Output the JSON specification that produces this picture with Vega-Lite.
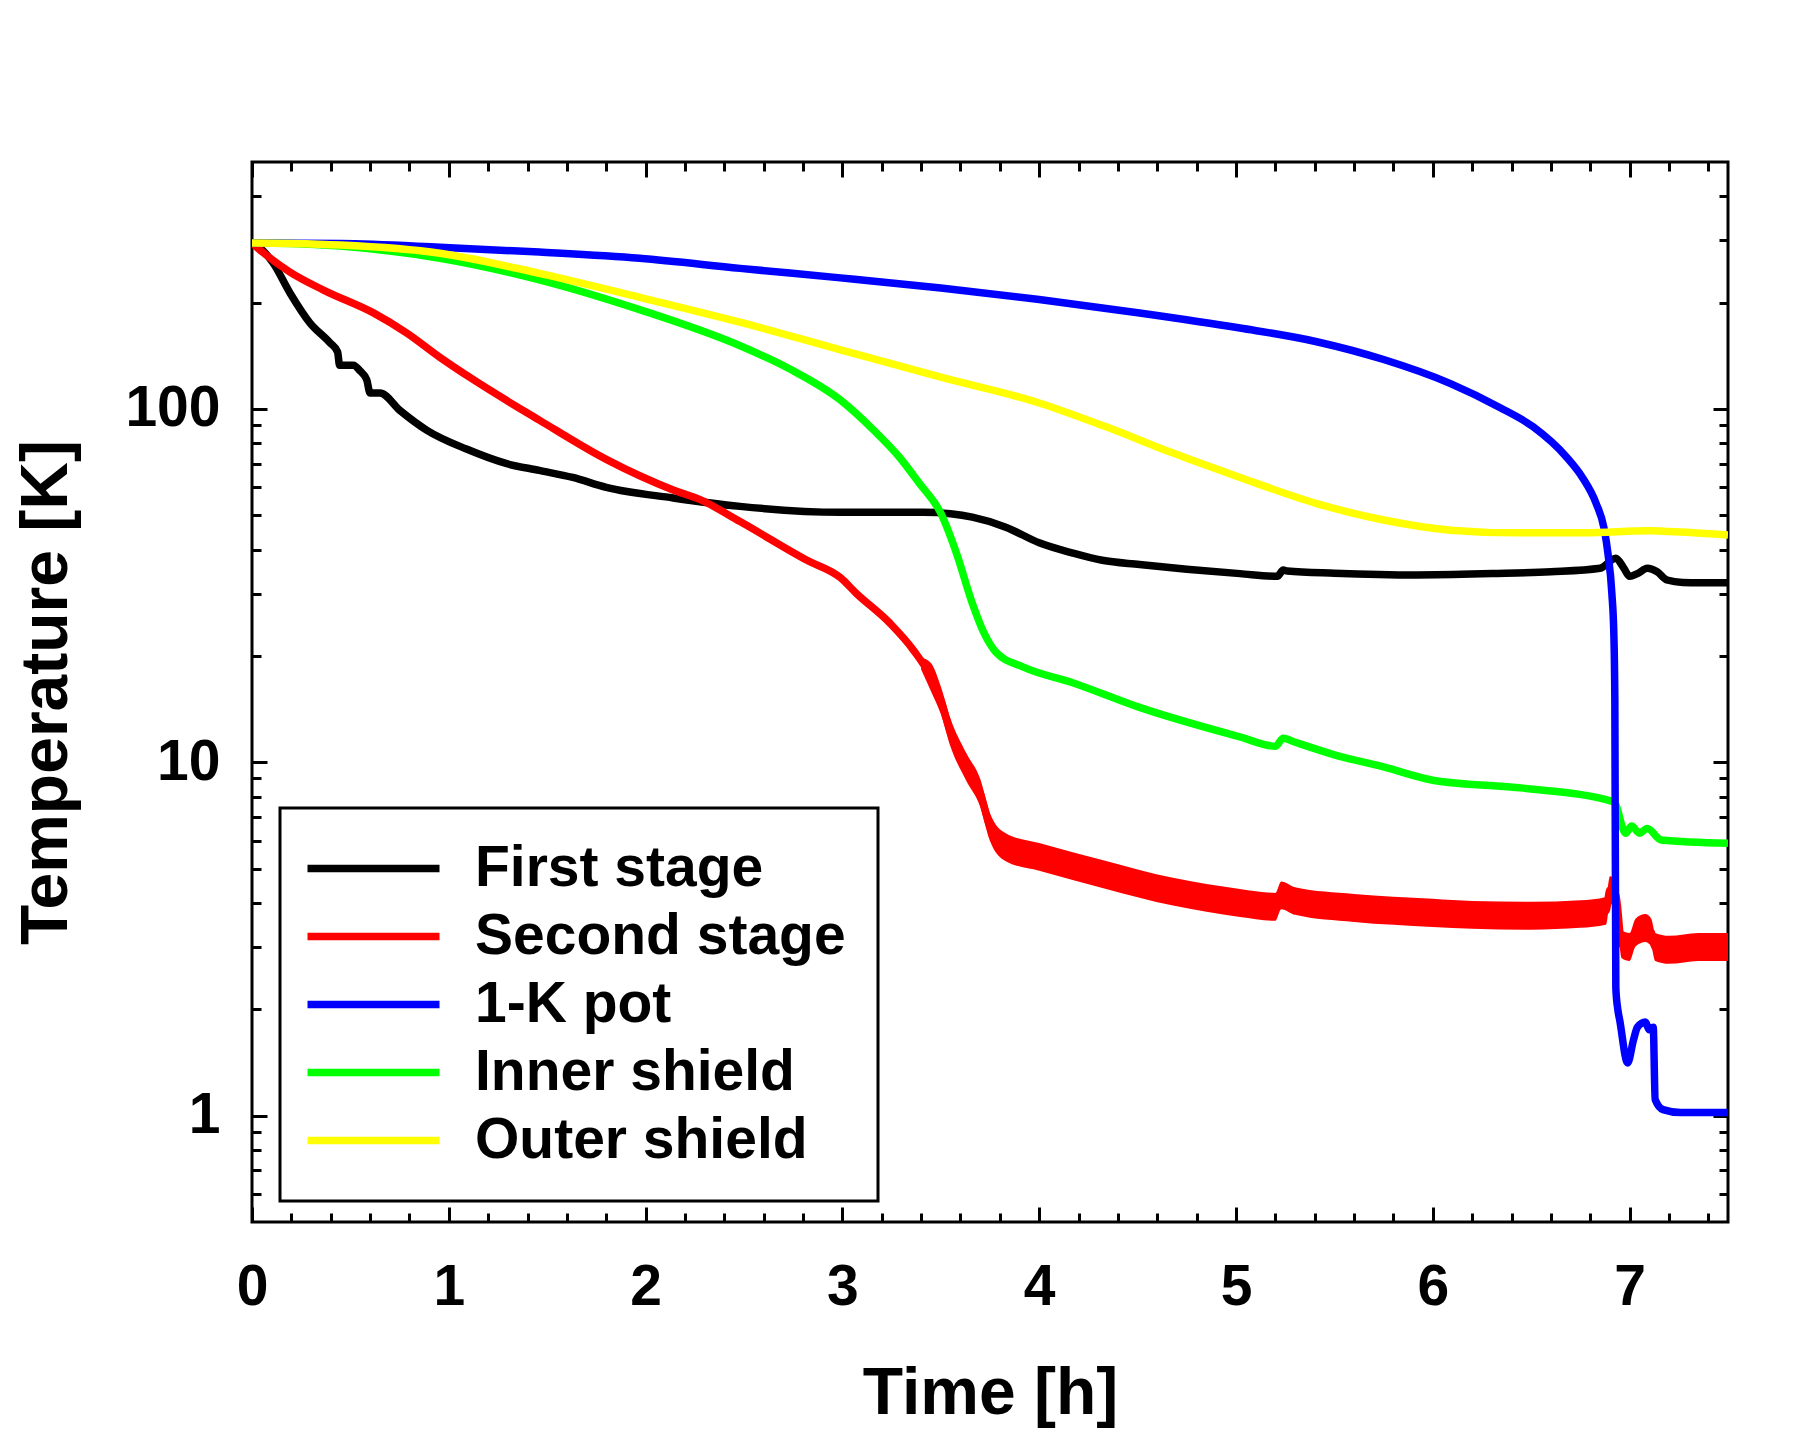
{
  "$schema": "https://vega.github.io/schema/vega-lite/v6.json",
  "width": 1476,
  "height": 1060,
  "autosize": {"type": "none"},
  "padding": {"left": 252, "top": 162, "right": 87, "bottom": 223},
  "background": "white",
  "config": {
    "view": {"stroke": "black", "strokeWidth": 3},
    "axis": {"domain": false, "grid": false, "tickColor": "black", "tickWidth": 3, "labelColor": "black", "titleColor": "black", "labelFont": "Liberation Sans", "titleFont": "Liberation Sans", "labelFontWeight": "bold", "titleFontWeight": "bold"},
    "legend": {"strokeWidth": 3}
  },
  "datasets": {
    "lines": [
      {"s": "First stage", "t": 0, "T": 295}, {"s": "First stage", "t": 0.025, "T": 290}, {"s": "First stage", "t": 0.107, "T": 259},
      {"s": "First stage", "t": 0.193, "T": 213}, {"s": "First stage", "t": 0.295, "T": 175}, {"s": "First stage", "t": 0.396, "T": 154},
      {"s": "First stage", "t": 0.435, "T": 145}, {"s": "First stage", "t": 0.445, "T": 133}, {"s": "First stage", "t": 0.515, "T": 133},
      {"s": "First stage", "t": 0.55, "T": 128}, {"s": "First stage", "t": 0.583, "T": 121}, {"s": "First stage", "t": 0.6, "T": 111},
      {"s": "First stage", "t": 0.65, "T": 111}, {"s": "First stage", "t": 0.752, "T": 99}, {"s": "First stage", "t": 0.889, "T": 87},
      {"s": "First stage", "t": 1.09, "T": 77}, {"s": "First stage", "t": 1.295, "T": 70}, {"s": "First stage", "t": 1.46, "T": 67},
      {"s": "First stage", "t": 1.63, "T": 64}, {"s": "First stage", "t": 1.8, "T": 60}, {"s": "First stage", "t": 2.14, "T": 56},
      {"s": "First stage", "t": 2.48, "T": 53}, {"s": "First stage", "t": 2.99, "T": 51}, {"s": "First stage", "t": 3.41, "T": 51},
      {"s": "First stage", "t": 3.55, "T": 50.5}, {"s": "First stage", "t": 3.66, "T": 49.4}, {"s": "First stage", "t": 3.83, "T": 46.3},
      {"s": "First stage", "t": 4.0, "T": 41.8}, {"s": "First stage", "t": 4.17, "T": 39.1}, {"s": "First stage", "t": 4.32, "T": 37.3},
      {"s": "First stage", "t": 4.51, "T": 36.3}, {"s": "First stage", "t": 4.75, "T": 35.2}, {"s": "First stage", "t": 5.02, "T": 34.2},
      {"s": "First stage", "t": 5.21, "T": 33.6}, {"s": "First stage", "t": 5.24, "T": 35}, {"s": "First stage", "t": 5.26, "T": 34.8},
      {"s": "First stage", "t": 5.5, "T": 34.3}, {"s": "First stage", "t": 5.92, "T": 33.9}, {"s": "First stage", "t": 6.3, "T": 34.2},
      {"s": "First stage", "t": 6.6, "T": 34.6}, {"s": "First stage", "t": 6.85, "T": 35.4}, {"s": "First stage", "t": 6.93, "T": 37.8},
      {"s": "First stage", "t": 6.97, "T": 35.5}, {"s": "First stage", "t": 7.0, "T": 33.6}, {"s": "First stage", "t": 7.04, "T": 34.2},
      {"s": "First stage", "t": 7.09, "T": 35.4}, {"s": "First stage", "t": 7.14, "T": 34.6}, {"s": "First stage", "t": 7.19, "T": 32.8},
      {"s": "First stage", "t": 7.27, "T": 32.3}, {"s": "First stage", "t": 7.5, "T": 32.2},

      {"s": "Second stage", "t": 0, "T": 295}, {"s": "Second stage", "t": 0.04, "T": 282}, {"s": "Second stage", "t": 0.193, "T": 244},
      {"s": "Second stage", "t": 0.363, "T": 217}, {"s": "Second stage", "t": 0.617, "T": 187}, {"s": "Second stage", "t": 0.787, "T": 164},
      {"s": "Second stage", "t": 0.955, "T": 140}, {"s": "Second stage", "t": 1.125, "T": 121}, {"s": "Second stage", "t": 1.46, "T": 93},
      {"s": "Second stage", "t": 1.8, "T": 72}, {"s": "Second stage", "t": 2.14, "T": 59}, {"s": "Second stage", "t": 2.28, "T": 55.3},
      {"s": "Second stage", "t": 2.48, "T": 48}, {"s": "Second stage", "t": 2.82, "T": 37.3}, {"s": "Second stage", "t": 2.99, "T": 33.3},
      {"s": "Second stage", "t": 3.07, "T": 30.1}, {"s": "Second stage", "t": 3.24, "T": 24.8}, {"s": "Second stage", "t": 3.36, "T": 20.8},
      {"s": "Second stage", "t": 3.45, "T": 17.4}, {"s": "Second stage", "t": 3.5, "T": 15}, {"s": "Second stage", "t": 3.55, "T": 12.1},
      {"s": "Second stage", "t": 3.63, "T": 9.7}, {"s": "Second stage", "t": 3.7, "T": 8.2}, {"s": "Second stage", "t": 3.75, "T": 6.56},
      {"s": "Second stage", "t": 3.83, "T": 5.75}, {"s": "Second stage", "t": 4.0, "T": 5.4}, {"s": "Second stage", "t": 4.34, "T": 4.8},
      {"s": "Second stage", "t": 4.68, "T": 4.3}, {"s": "Second stage", "t": 5.02, "T": 4.0}, {"s": "Second stage", "t": 5.2, "T": 3.9},
      {"s": "Second stage", "t": 5.23, "T": 4.2}, {"s": "Second stage", "t": 5.3, "T": 4.05}, {"s": "Second stage", "t": 5.6, "T": 3.87},
      {"s": "Second stage", "t": 6.0, "T": 3.75}, {"s": "Second stage", "t": 6.2, "T": 3.7}, {"s": "Second stage", "t": 6.5, "T": 3.68},
      {"s": "Second stage", "t": 6.75, "T": 3.72}, {"s": "Second stage", "t": 6.88, "T": 3.8}, {"s": "Second stage", "t": 6.9, "T": 4.35},
      {"s": "Second stage", "t": 6.93, "T": 4.2}, {"s": "Second stage", "t": 6.96, "T": 3.05}, {"s": "Second stage", "t": 7.0, "T": 3.0},
      {"s": "Second stage", "t": 7.03, "T": 3.3}, {"s": "Second stage", "t": 7.08, "T": 3.4}, {"s": "Second stage", "t": 7.11, "T": 3.3},
      {"s": "Second stage", "t": 7.13, "T": 3.0}, {"s": "Second stage", "t": 7.2, "T": 2.95}, {"s": "Second stage", "t": 7.35, "T": 3.0},
      {"s": "Second stage", "t": 7.5, "T": 3.0},

      {"s": "Inner shield", "t": 0, "T": 295}, {"s": "Inner shield", "t": 0.2, "T": 294}, {"s": "Inner shield", "t": 0.45, "T": 289},
      {"s": "Inner shield", "t": 0.955, "T": 267}, {"s": "Inner shield", "t": 1.46, "T": 232}, {"s": "Inner shield", "t": 1.97, "T": 191},
      {"s": "Inner shield", "t": 2.48, "T": 151}, {"s": "Inner shield", "t": 2.73, "T": 130}, {"s": "Inner shield", "t": 2.99, "T": 106},
      {"s": "Inner shield", "t": 3.16, "T": 87}, {"s": "Inner shield", "t": 3.29, "T": 73}, {"s": "Inner shield", "t": 3.39, "T": 61.7},
      {"s": "Inner shield", "t": 3.5, "T": 50.7}, {"s": "Inner shield", "t": 3.58, "T": 39}, {"s": "Inner shield", "t": 3.66, "T": 28.2},
      {"s": "Inner shield", "t": 3.72, "T": 23.2}, {"s": "Inner shield", "t": 3.78, "T": 20.5}, {"s": "Inner shield", "t": 3.92, "T": 18.6},
      {"s": "Inner shield", "t": 4.17, "T": 16.8}, {"s": "Inner shield", "t": 4.51, "T": 14.3}, {"s": "Inner shield", "t": 5.02, "T": 11.8},
      {"s": "Inner shield", "t": 5.2, "T": 11.1}, {"s": "Inner shield", "t": 5.24, "T": 11.7}, {"s": "Inner shield", "t": 5.3, "T": 11.4},
      {"s": "Inner shield", "t": 5.5, "T": 10.5}, {"s": "Inner shield", "t": 5.75, "T": 9.7}, {"s": "Inner shield", "t": 6.0, "T": 8.9},
      {"s": "Inner shield", "t": 6.46, "T": 8.45}, {"s": "Inner shield", "t": 6.92, "T": 7.73}, {"s": "Inner shield", "t": 6.98, "T": 6.3},
      {"s": "Inner shield", "t": 7.01, "T": 6.6}, {"s": "Inner shield", "t": 7.05, "T": 6.3}, {"s": "Inner shield", "t": 7.09, "T": 6.5},
      {"s": "Inner shield", "t": 7.16, "T": 6.03}, {"s": "Inner shield", "t": 7.5, "T": 5.9},

      {"s": "1-K pot", "t": 0, "T": 295}, {"s": "1-K pot", "t": 0.45, "T": 294}, {"s": "1-K pot", "t": 0.955, "T": 287},
      {"s": "1-K pot", "t": 1.46, "T": 278}, {"s": "1-K pot", "t": 1.97, "T": 267}, {"s": "1-K pot", "t": 2.48, "T": 250},
      {"s": "1-K pot", "t": 2.99, "T": 235}, {"s": "1-K pot", "t": 3.5, "T": 220}, {"s": "1-K pot", "t": 4.0, "T": 204},
      {"s": "1-K pot", "t": 4.51, "T": 187}, {"s": "1-K pot", "t": 5.02, "T": 169.5}, {"s": "1-K pot", "t": 5.41, "T": 155},
      {"s": "1-K pot", "t": 5.75, "T": 138}, {"s": "1-K pot", "t": 6.09, "T": 118}, {"s": "1-K pot", "t": 6.34, "T": 101},
      {"s": "1-K pot", "t": 6.51, "T": 89}, {"s": "1-K pot", "t": 6.68, "T": 73}, {"s": "1-K pot", "t": 6.76, "T": 64},
      {"s": "1-K pot", "t": 6.83, "T": 54}, {"s": "1-K pot", "t": 6.87, "T": 46}, {"s": "1-K pot", "t": 6.89, "T": 39},
      {"s": "1-K pot", "t": 6.91, "T": 30}, {"s": "1-K pot", "t": 6.92, "T": 23}, {"s": "1-K pot", "t": 6.925, "T": 15},
      {"s": "1-K pot", "t": 6.93, "T": 2.3}, {"s": "1-K pot", "t": 6.94, "T": 2.0}, {"s": "1-K pot", "t": 6.95, "T": 1.86},
      {"s": "1-K pot", "t": 6.99, "T": 1.41}, {"s": "1-K pot", "t": 7.02, "T": 1.64}, {"s": "1-K pot", "t": 7.04, "T": 1.78},
      {"s": "1-K pot", "t": 7.08, "T": 1.84}, {"s": "1-K pot", "t": 7.1, "T": 1.75}, {"s": "1-K pot", "t": 7.12, "T": 1.78},
      {"s": "1-K pot", "t": 7.13, "T": 1.11}, {"s": "1-K pot", "t": 7.17, "T": 1.04}, {"s": "1-K pot", "t": 7.26, "T": 1.02},
      {"s": "1-K pot", "t": 7.5, "T": 1.02},

      {"s": "Outer shield", "t": 0, "T": 295}, {"s": "Outer shield", "t": 0.2, "T": 294}, {"s": "Outer shield", "t": 0.45, "T": 291},
      {"s": "Outer shield", "t": 0.955, "T": 276}, {"s": "Outer shield", "t": 1.46, "T": 242}, {"s": "Outer shield", "t": 1.97, "T": 207},
      {"s": "Outer shield", "t": 2.48, "T": 176}, {"s": "Outer shield", "t": 2.99, "T": 147}, {"s": "Outer shield", "t": 3.5, "T": 123},
      {"s": "Outer shield", "t": 4.0, "T": 104}, {"s": "Outer shield", "t": 4.34, "T": 89}, {"s": "Outer shield", "t": 4.68, "T": 75},
      {"s": "Outer shield", "t": 5.02, "T": 64}, {"s": "Outer shield", "t": 5.41, "T": 54}, {"s": "Outer shield", "t": 5.75, "T": 48.5},
      {"s": "Outer shield", "t": 6.09, "T": 45.4}, {"s": "Outer shield", "t": 6.43, "T": 44.6}, {"s": "Outer shield", "t": 6.77, "T": 44.6},
      {"s": "Outer shield", "t": 7.1, "T": 45.2}, {"s": "Outer shield", "t": 7.2, "T": 45}, {"s": "Outer shield", "t": 7.5, "T": 44}
    ],
    "noise": [
      {"t": 3.4, "lo": 18.3, "hi": 19.8}, {"t": 3.45, "lo": 15.9, "hi": 19.1}, {"t": 3.5, "lo": 13.7, "hi": 16.4},
      {"t": 3.55, "lo": 11.05, "hi": 13.25}, {"t": 3.63, "lo": 8.86, "hi": 10.6}, {"t": 3.7, "lo": 7.49, "hi": 8.98},
      {"t": 3.75, "lo": 5.99, "hi": 7.18}, {"t": 3.83, "lo": 5.25, "hi": 6.3}, {"t": 4.0, "lo": 4.93, "hi": 5.91},
      {"t": 4.34, "lo": 4.38, "hi": 5.26}, {"t": 4.68, "lo": 3.93, "hi": 4.71}, {"t": 5.02, "lo": 3.65, "hi": 4.38},
      {"t": 5.2, "lo": 3.56, "hi": 4.27}, {"t": 5.23, "lo": 3.84, "hi": 4.6}, {"t": 5.3, "lo": 3.7, "hi": 4.43},
      {"t": 5.6, "lo": 3.53, "hi": 4.24}, {"t": 6.0, "lo": 3.42, "hi": 4.11}, {"t": 6.2, "lo": 3.38, "hi": 4.05},
      {"t": 6.5, "lo": 3.36, "hi": 4.03}, {"t": 6.75, "lo": 3.4, "hi": 4.07}, {"t": 6.88, "lo": 3.47, "hi": 4.16},
      {"t": 6.9, "lo": 3.97, "hi": 4.76}, {"t": 6.93, "lo": 3.84, "hi": 4.6}, {"t": 6.96, "lo": 2.79, "hi": 3.34},
      {"t": 7.0, "lo": 2.74, "hi": 3.29}, {"t": 7.03, "lo": 3.01, "hi": 3.61}, {"t": 7.08, "lo": 3.1, "hi": 3.72},
      {"t": 7.11, "lo": 3.01, "hi": 3.61}, {"t": 7.13, "lo": 2.74, "hi": 3.29}, {"t": 7.2, "lo": 2.69, "hi": 3.23},
      {"t": 7.35, "lo": 2.74, "hi": 3.29}, {"t": 7.5, "lo": 2.74, "hi": 3.29}
    ]
  },
  "resolve": {"axis": {"x": "independent", "y": "independent"}},
  "layer": [
    {
      "data": {"name": "noise"},
      "mark": {"type": "area", "color": "#ff0000", "interpolate": "monotone", "clip": true},
      "encoding": {
        "x": {
          "field": "t", "type": "quantitative",
          "scale": {"domain": [0, 7.5], "nice": false, "zero": false},
          "axis": {"orient": "bottom", "values": [0.2, 0.4, 0.6, 0.8, 1.2, 1.4, 1.6, 1.8, 2.2, 2.4, 2.6, 2.8, 3.2, 3.4, 3.6, 3.8, 4.2, 4.4, 4.6, 4.8, 5.2, 5.4, 5.6, 5.8, 6.2, 6.4, 6.6, 6.8, 7.2, 7.4], "tickSize": -9, "labels": false, "title": null}
        },
        "y": {
          "field": "lo", "type": "quantitative",
          "scale": {"type": "log", "domain": [0.5, 500], "nice": false},
          "axis": {"orient": "left", "values": [0.6, 0.7, 0.8, 0.9, 2, 3, 4, 5, 6, 7, 8, 9, 20, 30, 40, 50, 60, 70, 80, 90, 200, 300, 400], "tickSize": -9, "labels": false, "title": null}
        },
        "y2": {"field": "hi"}
      }
    },
    {
      "data": {"name": "lines"},
      "mark": {"type": "line", "strokeWidth": 7.5, "interpolate": "monotone", "clip": true},
      "encoding": {
        "x": {
          "field": "t", "type": "quantitative",
          "scale": {"domain": [0, 7.5], "nice": false, "zero": false},
          "axis": {"orient": "bottom", "values": [0, 1, 2, 3, 4, 5, 6, 7], "format": "d", "tickSize": -15, "labelFontSize": 57, "labelPadding": 52, "labelFlush": false, "labelOverlap": false, "title": "Time [h]", "titleFontSize": 66, "titlePadding": 46}
        },
        "y": {
          "field": "T", "type": "quantitative",
          "scale": {"type": "log", "domain": [0.5, 500], "nice": false},
          "axis": {"orient": "left", "values": [1, 10, 100], "format": "d", "tickSize": -15, "labelFontSize": 57, "labelPadding": 47, "labelOverlap": false, "title": "Temperature [K]", "titleFontSize": 66, "titlePadding": 44}
        },
        "color": {
          "field": "s", "type": "nominal",
          "scale": {
            "domain": ["First stage", "Second stage", "1-K pot", "Inner shield", "Outer shield"],
            "range": ["#000000", "#ff0000", "#0000ff", "#00ff00", "#ffff00"]
          },
          "legend": {
            "orient": "none", "legendX": 28, "legendY": 646, "title": null,
            "padding": 32, "rowPadding": 10, "strokeColor": "black", "fillColor": "white",
            "symbolType": "M-2,0H6", "symbolSize": 1089, "symbolStrokeWidth": 7.5,
            "labelFont": "Liberation Sans", "labelFontSize": 57, "labelFontWeight": "bold", "labelColor": "black",
            "labelOffset": 106, "labelLimit": 800
          }
        }
      }
    },
    {
      "data": {"name": "noise"},
      "mark": {"type": "point", "opacity": 0},
      "encoding": {
        "x": {
          "field": "t", "type": "quantitative",
          "scale": {"domain": [0, 7.5], "nice": false, "zero": false},
          "axis": {"orient": "top", "values": [0, 1, 2, 3, 4, 5, 6, 7], "tickSize": -15, "labels": false, "title": null}
        },
        "y": {
          "field": "lo", "type": "quantitative",
          "scale": {"type": "log", "domain": [0.5, 500], "nice": false},
          "axis": {"orient": "right", "values": [1, 10, 100], "tickSize": -15, "labels": false, "title": null}
        }
      }
    },
    {
      "data": {"name": "noise"},
      "mark": {"type": "point", "opacity": 0},
      "encoding": {
        "x": {
          "field": "t", "type": "quantitative",
          "scale": {"domain": [0, 7.5], "nice": false, "zero": false},
          "axis": {"orient": "top", "values": [0.2, 0.4, 0.6, 0.8, 1.2, 1.4, 1.6, 1.8, 2.2, 2.4, 2.6, 2.8, 3.2, 3.4, 3.6, 3.8, 4.2, 4.4, 4.6, 4.8, 5.2, 5.4, 5.6, 5.8, 6.2, 6.4, 6.6, 6.8, 7.2, 7.4], "tickSize": -9, "labels": false, "title": null}
        },
        "y": {
          "field": "lo", "type": "quantitative",
          "scale": {"type": "log", "domain": [0.5, 500], "nice": false},
          "axis": {"orient": "right", "values": [0.6, 0.7, 0.8, 0.9, 2, 3, 4, 5, 6, 7, 8, 9, 20, 30, 40, 50, 60, 70, 80, 90, 200, 300, 400], "tickSize": -9, "labels": false, "title": null}
        }
      }
    }
  ]
}
